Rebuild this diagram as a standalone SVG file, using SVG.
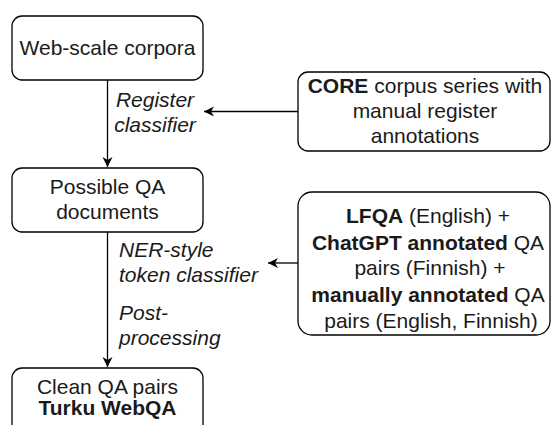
<svg xmlns="http://www.w3.org/2000/svg" width="551" height="425" viewBox="0 0 551 425">
<style>
.box{fill:#fff;stroke:#000;stroke-width:1.3}
.t{font-family:"Liberation Sans",Arial,sans-serif;font-size:21px;fill:#1a1a1a;text-anchor:middle}
.i{font-style:italic}
.l{text-anchor:start}
.b{font-weight:bold}
.c{fill:none;stroke:#000;stroke-width:1.3}
</style>
<defs>
<marker id="arr" markerUnits="userSpaceOnUse" markerWidth="12" markerHeight="12" viewBox="0 0 12 12" refX="11" refY="6" orient="auto">
<path d="M1,1 L11,6 L1,11 L4,6 Z" fill="#000"/>
</marker>
</defs>
<rect width="551" height="425" fill="#fff"/>
<g id="connectors">
<path class="c" d="M107.5,80 L107.5,167" marker-end="url(#arr)"/>
<path class="c" d="M107.5,232 L107.5,367" marker-end="url(#arr)"/>
<path class="c" d="M298,111.5 L204,111.5" marker-end="url(#arr)"/>
<path class="c" d="M298,263 L268,263" marker-end="url(#arr)"/>
<text class="t i" x="155" y="107">Register</text>
<text class="t i" x="155" y="132">classifier</text>
<text class="t i l" x="119" y="257">NER-style</text>
<text class="t i l" x="119" y="282">token classifier</text>
<text class="t i l" x="119" y="320">Post-</text>
<text class="t i l" x="119" y="345">processing</text>
</g>
<g id="web">
<rect class="box" x="12" y="16" width="191" height="64" rx="10"/>
<text class="t" x="107.5" y="55">Web-scale corpora</text>
</g>
<g id="possible">
<rect class="box" x="12" y="168" width="191" height="64" rx="10"/>
<text class="t" x="107.5" y="194">Possible QA</text>
<text class="t" x="107.5" y="219">documents</text>
</g>
<g id="clean">
<rect class="box" x="12" y="368" width="191" height="80" rx="10"/>
<text class="t" x="107.5" y="394">Clean QA pairs</text>
<text class="t b" x="107.5" y="415">Turku WebQA</text>
</g>
<g id="core">
<rect class="box" x="298" y="72" width="252" height="79" rx="10"/>
<text class="t" x="425" y="93"><tspan class="b">CORE</tspan> corpus series with</text>
<text class="t" x="425" y="118">manual register</text>
<text class="t" x="425" y="143">annotations</text>
</g>
<g id="lfqa">
<rect class="box" x="298" y="192" width="252" height="143" rx="14"/>
<text class="t" x="428" y="223"><tspan class="b">LFQA</tspan> (English) +</text>
<text class="t" x="428" y="250"><tspan class="b">ChatGPT annotated</tspan> QA</text>
<text class="t" x="430" y="275">pairs (Finnish) +</text>
<text class="t" x="428" y="302"><tspan class="b">manually annotated</tspan> QA</text>
<text class="t" x="431" y="328">pairs (English, Finnish)</text>
</g>
</svg>
